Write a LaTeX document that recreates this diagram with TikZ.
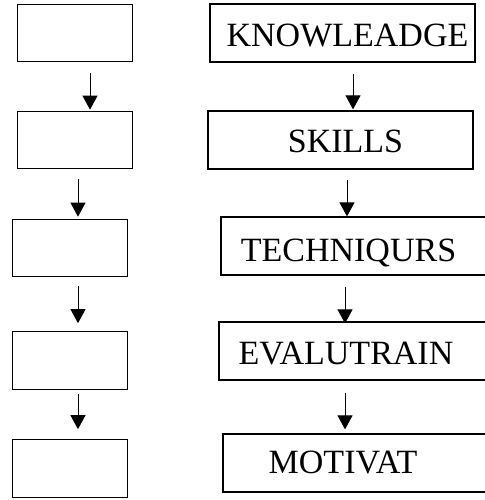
\documentclass[tikz,border=0pt]{standalone}
\usepackage{fontspec}
\setmainfont{Liberation Serif}
\usetikzlibrary{arrows.meta,positioning}

\begin{document}
\begin{tikzpicture}[x=1pt,y=1pt,>={Triangle[width=15pt,length=14pt]},
  lbox/.style={draw,line width=1.2pt,minimum width=115pt,minimum height=57.5pt,inner sep=0pt},
  rbox/.style={draw,line width=1.2pt,minimum width=265pt,minimum height=58pt,inner sep=0pt},
  wbox/.style={rbox,minimum width=290pt},
  flow/.style={->,line width=1pt},
  every label/.style={font=\fontsize{34}{40}\selectfont,inner sep=0pt}]
\useasboundingbox (0,0) rectangle (484,500);
% left column
\node[lbox] (l1) at (75,467)  {};
\node[lbox] (l2) at (75,360)  {};
\node[lbox] (l3) at (70,252)  {};
\node[lbox] (l4) at (70,139.5) {};
\node[lbox] (l5) at (70,31.5) {};
% right column (last three run off the page)
\node[rbox,label={[xshift=5pt,yshift=-3pt]center:KNOWLEADGE}] (r1) at (342.5,467) {};
\node[rbox,label={[xshift=5pt,yshift=-1pt]center:SKILLS}]     (r2) at (340.5,360) {};
\node[wbox,label={[xshift=-17.5pt,yshift=-7pt]center:TECHNIQURS}] (r3) at (366,254) {};
\node[wbox,label={[xshift=-18pt,yshift=-3pt]center:EVALUTRAIN}] (r4) at (364,149) {};
\node[wbox,label={[xshift=-25pt,yshift=0.5pt]center:MOTIVAT}] (r5) at (368,37) {};
% arrows
\draw[flow] ([xshift=15pt,yshift=-11pt]l1.south) -- ([xshift=15pt,yshift=1pt]l2.north);
\draw[flow] ([xshift=3pt,yshift=-10pt]l2.south)  -- ([xshift=8pt,yshift=2pt]l3.north);
\draw[flow] ([xshift=8pt,yshift=-9pt]l3.south)   -- ([xshift=8pt,yshift=8pt]l4.north);
\draw[flow] ([xshift=8pt,yshift=-4pt]l4.south)   -- ([xshift=8pt,yshift=10pt]l5.north);
\draw[flow] ([xshift=10.5pt,yshift=-11pt]r1.south) -- ([xshift=12.5pt,yshift=1pt]r2.north);
\draw[flow] ([xshift=6.5pt,yshift=-10pt]r2.south)  -- ([xshift=-19pt,yshift=0pt]r3.north);
\draw[flow] ([xshift=-21pt,yshift=-11pt]r3.south)  -- ([xshift=-19pt,yshift=-2pt]r4.north);
\draw[flow] ([xshift=-19pt,yshift=-12pt]r4.south)  -- ([xshift=-23pt,yshift=4pt]r5.north);
\end{tikzpicture}
\end{document}
